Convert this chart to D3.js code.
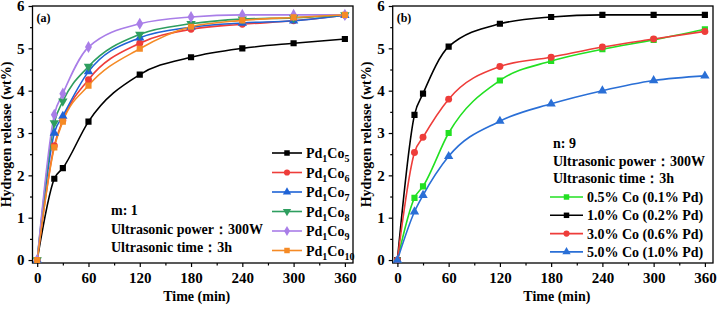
<!DOCTYPE html>
<html>
<head>
<meta charset="utf-8">
<script src="https://cdn.jsdelivr.net/npm/d3@7"></script>
<style>
  body { margin: 0; background: #fff; }
</style>
</head>
<body>
<svg id="chart" width="717" height="313" font-family="'Liberation Serif', 'DejaVu Serif', serif" font-weight="bold"></svg>
<script>
// sample times (min)
const times = [0, 20, 30, 60, 120, 180, 240, 300, 360];

// panel (a): Pd1Com, m = 1
const seriesA = ["5", "6", "7", "8", "9", "10"];
const pd1co5 = [0, 1.92, 2.17, 3.27, 4.38, 4.79, 5.0, 5.12, 5.22];
const pd1co6 = [0, 2.7, 3.3, 4.26, 5.12, 5.45, 5.57, 5.65, 5.78];
const pd1co7 = [0, 3.0, 3.4, 4.45, 5.25, 5.5, 5.6, 5.65, 5.78];
const pd1co8 = [0, 3.24, 3.75, 4.57, 5.33, 5.58, 5.69, 5.72, 5.79];
const pd1co9 = [0, 3.43, 3.93, 5.03, 5.58, 5.74, 5.79, 5.79, 5.79];
const pd1co10 = [0, 2.66, 3.27, 4.12, 4.99, 5.51, 5.66, 5.73, 5.79];

// panel (b): n = 9, varying loading
const seriesB = ["0.5% Co (0.1% Pd)", "1.0% Co (0.2% Pd)", "3.0% Co (0.6% Pd)", "5.0% Co (1.0% Pd)"];
const co05 = [0, 1.47, 1.74, 3.0, 4.24, 4.7, 4.98, 5.2, 5.45];
const co10 = [0, 3.43, 3.93, 5.04, 5.58, 5.74, 5.79, 5.79, 5.79];
const co30 = [0, 2.54, 2.9, 3.8, 4.57, 4.79, 5.03, 5.22, 5.4];
const co50 = [0, 1.14, 1.53, 2.45, 3.28, 3.69, 4.0, 4.24, 4.35];

const xTicks = [0, 60, 120, 180, 240, 300, 360];
const yTicks = [0, 1, 2, 3, 4, 5, 6];

const svg = d3.select("#chart");
const H = { top: 6, bottom: 263 };

const symbols = {
  square: d3.symbolSquare,
  circle: d3.symbolCircle,
  triangle: d3.symbolTriangle,
  down: d3.symbolTriangle,
  diamond: d3.symbolDiamond
};

function styleAxis(a) {
  a.attr("font-family", null).attr("font-size", null);
  a.select(".domain").remove();
  a.selectAll("text").attr("font-size", 15).attr("fill", "#000");
  a.selectAll(".tick line").attr("stroke", "#000").attr("stroke-width", 1.2);
}

function drawPanel(cfg) {
  const x = d3.scaleLinear().domain([-5.5, 369.5]).range([cfg.left, cfg.right]);
  const y = d3.scaleLinear().domain([-0.07, 6]).range([H.bottom, H.top]);
  const g = svg.append("g");

  const clipId = "clip" + cfg.label;
  g.append("clipPath").attr("id", clipId)
    .append("rect")
    .attr("x", cfg.left).attr("y", H.top)
    .attr("width", cfg.right - cfg.left).attr("height", H.bottom - H.top);

  // minor ticks
  g.append("g")
    .attr("transform", `translate(0,${H.bottom})`)
    .call(d3.axisBottom(x).tickValues(d3.range(30, 360, 60)).tickSize(2.5).tickFormat(""))
    .call(styleAxis);
  g.append("g")
    .attr("transform", `translate(${cfg.left},0)`)
    .call(d3.axisLeft(y).tickValues(d3.range(0.5, 6, 1)).tickSize(2.5).tickFormat(""))
    .call(styleAxis);

  // major ticks
  g.append("g")
    .attr("transform", `translate(0,${H.bottom})`)
    .call(d3.axisBottom(x).tickValues(xTicks).tickSize(4).tickPadding(5).tickFormat(d3.format("d")))
    .call(styleAxis);
  g.append("g")
    .attr("transform", `translate(${cfg.left},0)`)
    .call(d3.axisLeft(y).tickValues(yTicks).tickSize(4).tickPadding(4).tickFormat(d3.format("d")))
    .call(styleAxis);

  // frame
  g.append("rect")
    .attr("x", cfg.left).attr("y", H.top)
    .attr("width", cfg.right - cfg.left).attr("height", H.bottom - H.top)
    .attr("fill", "none").attr("stroke", "#000").attr("stroke-width", 1.3);

  // axis titles
  g.append("text")
    .attr("transform", `translate(${cfg.left - 22},${(H.top + H.bottom) / 2}) rotate(-90)`)
    .attr("text-anchor", "middle").attr("font-size", 14)
    .text("Hydrogen release (wt%)");
  g.append("text")
    .attr("x", (cfg.left + cfg.right) / 2 + 4).attr("y", 301)
    .attr("text-anchor", "middle").attr("font-size", 14)
    .text("Time (min)");

  g.append("text")
    .attr("x", cfg.left + 4).attr("y", 22)
    .attr("font-size", 12)
    .text(`(${cfg.label})`);

  const line = d3.line()
    .x((d, i) => x(times[i]))
    .y(d => y(d))
    .curve(d3.curveMonotoneX);

  const plot = g.append("g").attr("clip-path", `url(#${clipId})`);
  cfg.series.forEach(s => {
    plot.append("path")
      .datum(s.values)
      .attr("fill", "none").attr("stroke", s.color).attr("stroke-width", 1.6)
      .attr("d", line);
  });
  cfg.series.forEach(s => {
    plot.append("g").selectAll("path")
      .data(s.values)
      .join("path")
      .attr("transform", (d, i) => `translate(${x(times[i])},${y(d)})` + (s.shape === "down" ? " rotate(180)" : ""))
      .attr("d", d3.symbol().type(symbols[s.shape]).size(s.shape === "diamond" ? 42 : 38))
      .attr("fill", s.color);
  });

  // legend
  const lg = g.append("g");
  cfg.series.forEach((s, i) => {
    const ly = cfg.legend.y + i * cfg.legend.step;
    lg.append("line")
      .attr("x1", cfg.legend.x).attr("x2", cfg.legend.x + cfg.legend.len)
      .attr("y1", ly).attr("y2", ly)
      .attr("stroke", s.color).attr("stroke-width", 1.6);
    lg.append("path")
      .attr("transform", `translate(${cfg.legend.x + cfg.legend.len / 2},${ly})` + (s.shape === "down" ? " rotate(180)" : ""))
      .attr("d", d3.symbol().type(symbols[s.shape]).size(30))
      .attr("fill", s.color);
    const t = lg.append("text")
      .attr("x", cfg.legend.x + cfg.legend.len + 4).attr("y", ly + 5)
      .attr("font-size", 14);
    cfg.legend.label(t, s.name);
  });

  // notes
  cfg.notes.forEach((n, i) => {
    g.append("text")
      .attr("x", cfg.notesPos.x).attr("y", cfg.notesPos.y + i * cfg.notesPos.step)
      .attr("font-size", 14)
      .text(n);
  });
}

function pdCoLabel(t, m) {
  t.append("tspan").text("Pd");
  t.append("tspan").attr("font-size", 10).attr("dy", 4).text("1");
  t.append("tspan").attr("dy", -4).text("Co");
  t.append("tspan").attr("font-size", 10).attr("dy", 4).text(m);
}

const dataA = [pd1co5, pd1co6, pd1co7, pd1co8, pd1co9, pd1co10];
const colorsA = ["#000000", "#ee3d3a", "#1f63d6", "#2e9e5f", "#a97ee8", "#f58a25"];
const shapesA = ["square", "circle", "triangle", "down", "diamond", "square"];

drawPanel({
  label: "a", left: 32.5, right: 353,
  series: seriesA.map((m, i) => ({ name: m, values: dataA[i], color: colorsA[i], shape: shapesA[i] })),
  legend: { x: 272, len: 30, y: 153, step: 19.5, label: pdCoLabel },
  notes: ["m: 1", "Ultrasonic power：300W", "Ultrasonic time：3h"],
  notesPos: { x: 111, y: 215, step: 18.5 }
});

const dataB = [co05, co10, co30, co50];
const colorsB = ["#22e022", "#000000", "#ee3d3a", "#2a6fd6"];
const shapesB = ["square", "square", "circle", "triangle"];

drawPanel({
  label: "b", left: 392.7, right: 713,
  series: seriesB.map((n, i) => ({ name: n, values: dataB[i], color: colorsB[i], shape: shapesB[i] })),
  legend: { x: 550, len: 33, y: 197, step: 18.3, label: (t, n) => t.text(n) },
  notes: ["n: 9", "Ultrasonic power：300W", "Ultrasonic time：3h"],
  notesPos: { x: 553, y: 148, step: 17.5 }
});
</script>
</body>
</html>
